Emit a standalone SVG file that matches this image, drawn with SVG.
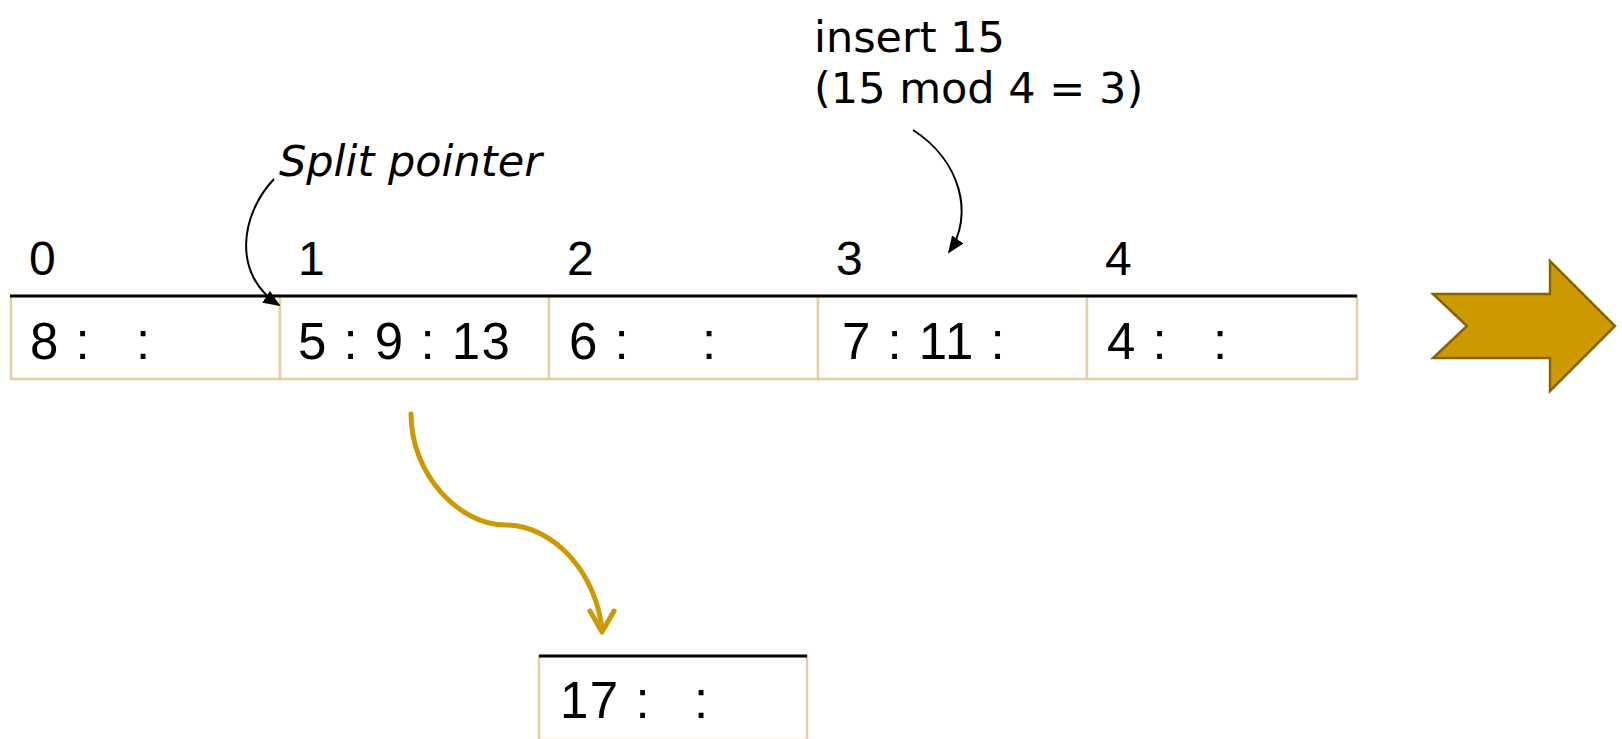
<svg xmlns="http://www.w3.org/2000/svg" width="1622" height="739" viewBox="0 0 1622 739">
<style>
.cell{fill:#fff;stroke:#E6CDA8;stroke-width:2.5}
.top{stroke:#000;stroke-width:3}
.val{font-family:"Liberation Sans",Arial,sans-serif;font-size:51px;letter-spacing:1.5px;fill:#000}
.idx{font-family:"Liberation Sans",Arial,sans-serif;font-size:48px;fill:#000}
.lbl{font-family:"DejaVu Sans",Verdana,sans-serif;font-size:43px;fill:#000}
.thin{fill:none;stroke:#000;stroke-width:2}
.gold{fill:none;stroke:#CC9900;stroke-width:5;stroke-linecap:round;stroke-linejoin:round}
</style>
<defs>
<marker id="ah" viewBox="0 0 10 10" refX="9" refY="5" markerWidth="17" markerHeight="14" markerUnits="userSpaceOnUse" orient="auto" preserveAspectRatio="none">
<path d="M0,0 L10,5 L0,10 z" fill="#000"/>
</marker>
</defs>
<rect width="1622" height="739" fill="#fff"/>
<g id="bucket0"><rect class="cell" x="11" y="296" width="269" height="83"/><text class="idx" x="29" y="275">0</text><text class="val" x="30" y="359" xml:space="preserve">8 :<tspan x="136">:</tspan></text></g>
<g id="bucket1"><rect class="cell" x="280" y="296" width="269" height="83"/><text class="idx" x="298" y="275">1</text><text class="val" x="298" y="359">5 : 9 : 13</text></g>
<g id="bucket2"><rect class="cell" x="549" y="296" width="269" height="83"/><text class="idx" x="567" y="275">2</text><text class="val" x="569" y="359" xml:space="preserve">6 :<tspan x="702">:</tspan></text></g>
<g id="bucket3"><rect class="cell" x="818" y="296" width="269" height="83"/><text class="idx" x="836" y="275">3</text><text class="val" x="842" y="359" letter-spacing="0.5">7 : 11 :</text></g>
<g id="bucket4"><rect class="cell" x="1087" y="296" width="270" height="83"/><text class="idx" x="1105" y="275">4</text><text class="val" x="1107" y="359" xml:space="preserve">4 :<tspan x="1213">:</tspan></text></g>
<line class="top" x1="10" y1="296" x2="1357" y2="296"/>
<g id="overflow17"><rect class="cell" x="539" y="656" width="268" height="84"/><line class="top" x1="539" y1="656" x2="807" y2="656"/><text class="val" x="560" y="718" xml:space="preserve">17 :<tspan x="694">:</tspan></text></g>
<g id="split-label"><text class="lbl" x="279" y="176" font-style="italic">Split pointer</text></g>
<g id="insert-label"><text class="lbl" x="814" y="52" font-size="42">insert 15</text><text class="lbl" x="814" y="103">(15 mod 4 = 3)</text></g>
<g id="next-arrow"><path d="M1433,294 L1550,294 L1550,261 L1615,326 L1550,391 L1550,358 L1433,358 L1467,326 Z" fill="#CC9900" stroke="#876400" stroke-width="2.5"/></g>
<g id="connectors">
<path class="thin" d="M274,179 C240,215 232,275 279,305" marker-end="url(#ah)"/>
<path class="thin" d="M913,130 C960,160 975,215 949,252" marker-end="url(#ah)"/>
<path class="gold" d="M411,414 C411,475 460,525 505,525 C555,525 597,575 602,630"/>
<path class="gold" d="M590,611 L602,632 L614,611"/>
</g>
</svg>
